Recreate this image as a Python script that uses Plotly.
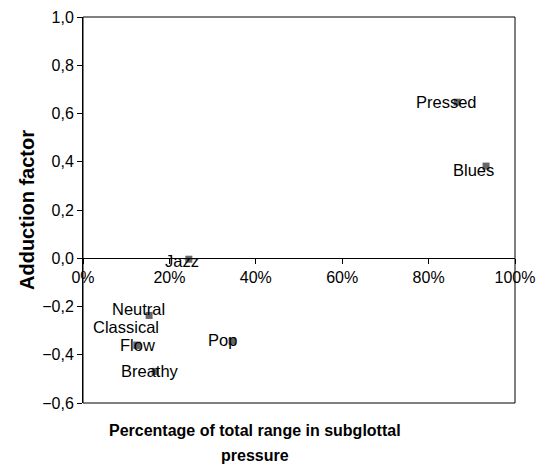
import plotly.graph_objects as go

labels = ["Pressed", "Blues", "Jazz", "Neutral", "Classical", "Flow", "Pop", "Breathy"]
pressure_pct = [0.866, 0.933, 0.245, 0.153, 0.125, 0.125, 0.345, 0.167]
adduction = [0.647, 0.382, -0.004, -0.237, -0.36, -0.361, -0.344, -0.469]

# label offsets in pixels (styling)
label_dx = [-11, -13, -7, -11, -11, 0, -10, -5]
label_dy = [0, -4, -2, 6, 18, 0, 1, 0]

y_ticks = [-0.6, -0.4, -0.2, 0.0, 0.2, 0.4, 0.6, 0.8, 1.0]
x_ticks = [0, 0.2, 0.4, 0.6, 0.8, 1.0]

FONT = "Liberation Sans, Arial, sans-serif"

fig = go.Figure()
fig.add_trace(go.Scatter(
    x=pressure_pct, y=adduction, mode="markers",
    marker=dict(symbol="square", size=7, color="#666666"),
    showlegend=False, hoverinfo="skip",
))

for lab, x, y, dx, dy in zip(labels, pressure_pct, adduction, label_dx, label_dy):
    fig.add_annotation(x=x, y=y, text=lab, showarrow=False, xshift=dx, yshift=dy,
                       font=dict(family=FONT, size=16.5, color="#000000"))

fig.add_shape(type="rect", xref="x domain", yref="y domain", x0=0, y0=0, x1=1, y1=1,
              line=dict(color="#000000", width=1))

fig.update_layout(
    width=542, height=466,
    margin=dict(l=83, r=27, t=17, b=63, autoexpand=False),
    paper_bgcolor="white", plot_bgcolor="white",
    separators=",.",
    font=dict(family=FONT, size=16, color="#000000"),
    xaxis=dict(range=[0, 1], tickvals=x_ticks, tickformat=".0%", automargin=False,
               anchor="free", position=0.375, showline=True, linecolor="#000000", linewidth=1,
               ticks="outside", ticklen=5, tickcolor="#000000", showgrid=False, zeroline=False,
               tickfont=dict(size=16)),
    yaxis=dict(range=[-0.6, 1.0], tickvals=y_ticks, tickformat=".1f", automargin=False,
               showline=True, linecolor="#000000", linewidth=1,
               ticks="outside", ticklen=5, tickcolor="#000000", showgrid=False, zeroline=False,
               tickfont=dict(size=16)),
)

# y-axis title
fig.add_annotation(xref="paper", yref="paper", x=(27 - 83) / 432, y=0.5, xanchor="center",
                   yanchor="middle", textangle=-90,
                   text="<b>Adduction factor</b>",
                   showarrow=False, font=dict(family=FONT, size=20, color="#000000"))

# x-axis title (two lines)
x_title_lines = ["Percentage of total range in subglottal", "pressure"]
for line, ypix in zip(x_title_lines, [430, 455]):
    fig.add_annotation(xref="paper", yref="paper", x=(255 - 83) / 432,
                       y=(403 - ypix) / 386, yanchor="middle",
                       text="<b>" + line + "</b>",
                       showarrow=False, font=dict(family=FONT, size=16, color="#000000"))

fig.write_html("out.html", config={"displayModeBar": False},
               post_script="document.body.style.margin='0';")
